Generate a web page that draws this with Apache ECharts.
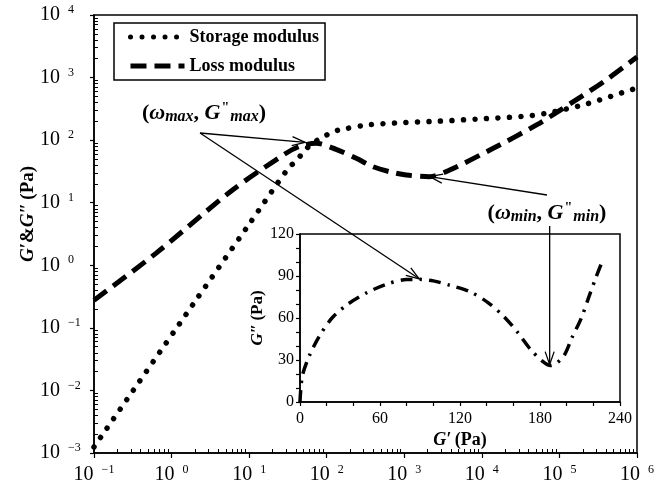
<!DOCTYPE html>
<html><head><meta charset="utf-8">
<script src="https://cdn.jsdelivr.net/npm/echarts@6/dist/echarts.min.js"></script>
<style>html,body{margin:0;padding:0;background:#fff}#c{width:661px;height:501px}</style>
</head><body><div id="c"></div>
<script>
// ---- data ----
const storageOmega = [0.1, 1.95, 10, 32, 41.5, 51.5, 67.6, 88.7, 122, 169, 339, 955, 2716, 10890, 43650, 87100, 223900, 895000, 1000000];
const storageG     = [0.00125, 0.251, 4.53, 35.5, 48.2, 67.9, 91.2, 111.2, 136.8, 151, 175, 190.5, 200.5, 220.8, 246.6, 285.8, 379.3, 651.6, 676];
const lossOmega = [0.1, 0.627, 6.11, 29.9, 44.7, 72.9, 132, 240, 393, 646, 1062, 2123, 3846, 14000, 50700, 151400, 405500, 1000000];
const lossG     = [0.277, 1.55, 15.96, 61.7, 79.4, 89.1, 71.4, 51.3, 37.7, 31.3, 27.7, 26.1, 33.3, 74.1, 175, 413, 925, 2138];
const insetGp  = [0, 0.5, 2, 7, 14.5, 24, 36, 50, 64.5, 80, 90, 100, 112, 127, 141, 153, 163, 173, 182, 188, 197.5, 204, 211, 217, 222, 226.5];
const insetGpp = [0, 8, 19.6, 33, 47, 60, 70, 78, 84, 87.5, 87.6, 86.5, 83.5, 79, 71, 61, 50, 37.5, 29, 26, 32.5, 46, 60, 76, 89, 100];
const xTickExp = ['−1', '0', '1', '2', '3', '4', '5', '6'];   // x: 10^-1 ... 10^6
const yTickExp = ['−3', '−2', '−1', '0', '1', '2', '3', '4']; // y: 10^-3 ... 10^4
const insetXTicks = [0, 60, 120, 180, 240];
const insetYTicks = [0, 30, 60, 90, 120];
const seriesNames = ['Storage modulus', 'Loss modulus'];

const SERIF = 'Liberation Serif';
// minor log ticks expressed as exponents (for a hidden linear axis spanning the same decades)
function minorLogExps(e0, e1) {
  const out = [];
  for (let e = e0; e < e1; e++) for (let m = 2; m <= 9; m++) out.push(e + Math.log10(m));
  return out;
}
function expLabel(arr, first) {
  return function (v) {
    const e = Math.round(Math.log10(v));
    const s = arr[e - first];
    return s === undefined ? '' : '{b|10}{s|' + s + '}';
  };
}
const labelRich = {
  b: { fontFamily: SERIF, fontSize: 20, color: '#000', lineHeight: 22, verticalAlign: 'middle' },
  s: { fontFamily: SERIF, fontSize: 12, color: '#000', lineHeight: 14, verticalAlign: 'top', padding: [0, 0, 20, 8] }
};

const chart = echarts.init(document.getElementById('c'), null, { renderer: 'canvas' });
const axisLine = { show: true, onZero: false, lineStyle: { color: '#000', width: 1.5 } };
const noLine = { show: false, onZero: false };

const option = {
  animation: false,
  backgroundColor: '#fff',
  grid: [
    { left: 94, right: 24, top: 15, bottom: 48, show: true, borderColor: '#000', borderWidth: 1.5, backgroundColor: 'transparent' },
    { left: 300, top: 234, width: 320, height: 168, show: true, borderColor: '#000', borderWidth: 1.5, backgroundColor: '#fff' }
  ],
  legend: {
    data: seriesNames, orient: 'vertical', left: 114, top: 23,
    padding: [5, 6, 5, 14], itemWidth: 54, itemHeight: 14, itemGap: 11,
    borderColor: '#000', borderWidth: 1.5, backgroundColor: '#fff',
    itemStyle: { opacity: 0 },
    lineStyle: { width: 5 },
    textStyle: { fontFamily: SERIF, fontWeight: 'bold', fontSize: 18, color: '#000' },
    selectedMode: false
  },
  xAxis: [
    { type: 'log', logBase: 10, min: 0.1, max: 1e6, gridIndex: 0, splitNumber: 7, position: 'bottom',
      axisLine, splitLine: { show: false },
      axisTick: { show: true, inside: false, length: 5, lineStyle: { color: '#000', width: 1.2 } },
      axisLabel: { formatter: expLabel(xTickExp, -1), margin: 11, rich: labelRich } },
    { type: 'value', min: -1, max: 6, gridIndex: 0, position: 'bottom',
      axisLine: noLine, splitLine: { show: false }, axisLabel: { show: false },
      axisTick: { show: true, inside: true, length: 4, customValues: minorLogExps(-1, 6), lineStyle: { color: '#000', width: 1 } } },
    { type: 'value', gridIndex: 1, min: 0, max: 240, interval: 60, position: 'bottom',
      axisLine, splitLine: { show: false },
      axisTick: { show: true, inside: false, length: 4, lineStyle: { color: '#000', width: 1.2 } },
      minorTick: { show: true, splitNumber: 3, length: 4, lineStyle: { color: '#000', width: 1.2 } },
      axisLabel: { fontFamily: SERIF, fontSize: 16, color: '#000', margin: 9, formatter: v => insetXTicks.includes(v) ? String(v) : '' },
      name: '{i|G′} {n|(Pa)}', nameLocation: 'middle', nameGap: 29, nameMoveOverlap: false,
      nameTextStyle: { rich: {
        i: { fontFamily: SERIF, fontSize: 18, fontWeight: 'bold', fontStyle: 'italic', color: '#000' },
        n: { fontFamily: SERIF, fontSize: 18, fontWeight: 'bold', color: '#000' } } } }
  ],
  yAxis: [
    { type: 'log', logBase: 10, min: 0.001, max: 1e4, gridIndex: 0, splitNumber: 7, position: 'left',
      axisLine, splitLine: { show: false },
      axisTick: { show: true, inside: false, length: 4, lineStyle: { color: '#000', width: 1.2 } },
      axisLabel: { formatter: expLabel(yTickExp, -3), align: 'left', margin: 54, rich: labelRich },
      name: '{i|G′}{n|&}{i|G″} {n|(Pa)}', nameLocation: 'middle', nameRotate: 90, nameGap: 56, nameMoveOverlap: false,
      nameTextStyle: { padding: [0, 0, 0, 40], rich: {
        i: { fontFamily: SERIF, fontSize: 19, fontWeight: 'bold', fontStyle: 'italic', color: '#000' },
        n: { fontFamily: SERIF, fontSize: 19, fontWeight: 'bold', color: '#000' } } } },
    { type: 'value', min: -3, max: 4, gridIndex: 0, position: 'left',
      axisLine: noLine, splitLine: { show: false }, axisLabel: { show: false },
      axisTick: { show: true, inside: true, length: 4, customValues: minorLogExps(-3, 4), lineStyle: { color: '#000', width: 1 } } },
    { type: 'value', gridIndex: 1, min: 0, max: 120, interval: 30, position: 'left',
      axisLine, splitLine: { show: false },
      axisTick: { show: true, inside: false, length: 4, lineStyle: { color: '#000', width: 1.2 } },
      minorTick: { show: true, splitNumber: 3, length: 4, lineStyle: { color: '#000', width: 1.2 } },
      axisLabel: { fontFamily: SERIF, fontSize: 16, color: '#000', margin: 6, formatter: v => insetYTicks.includes(v) ? String(v) : '' },
      name: '{i|G″} {n|(Pa)}', nameLocation: 'middle', nameRotate: 90, nameGap: 34, nameMoveOverlap: false,
      nameTextStyle: { rich: {
        i: { fontFamily: SERIF, fontSize: 17, fontWeight: 'bold', fontStyle: 'italic', color: '#000' },
        n: { fontFamily: SERIF, fontSize: 17, fontWeight: 'bold', color: '#000' } } } }
  ],
  series: [
    { name: seriesNames[0], type: 'line', xAxisIndex: 0, yAxisIndex: 0, smooth: 0.3, symbol: 'none',
      itemStyle: { color: '#000' },
      data: storageOmega.map((w, i) => [w, storageG[i]]),
      lineStyle: { color: '#000', width: 5.5, type: [0.01, 11.5], cap: 'round' }, z: 3 },
    { name: seriesNames[1], type: 'line', xAxisIndex: 0, yAxisIndex: 0, smooth: 0.3, symbol: 'none',
      itemStyle: { color: '#000' },
      data: lossOmega.map((w, i) => [w, lossG[i]]),
      lineStyle: { color: '#000', width: 5, type: [16, 8], cap: 'butt' }, z: 3 },
    { name: 'inset', type: 'line', xAxisIndex: 2, yAxisIndex: 2, smooth: 0.3, symbol: 'none',
      itemStyle: { color: '#000' },
      data: insetGp.map((g, i) => [g, insetGpp[i]]),
      lineStyle: { color: '#000', width: 3.5, type: [12, 7, 2.5, 7], cap: 'butt' }, z: 3 }
  ]
};
chart.setOption(option);

// ---- annotations: arrows to the G'' maximum and minimum ----
function argmax(a, from, to) { let k = from; for (let i = from; i < to; i++) if (a[i] > a[k]) k = i; return k; }
function argmin(a, from, to) { let k = from; for (let i = from; i < to; i++) if (a[i] < a[k]) k = i; return k; }
const iMax = argmax(lossG, 0, 10), iMin = argmin(lossG, iMax, lossG.length);
const jMax = argmax(insetGpp, 0, 18), jMin = argmin(insetGpp, jMax, insetGpp.length);
const pMax = chart.convertToPixel({ xAxisIndex: 0, yAxisIndex: 0 }, [lossOmega[iMax], lossG[iMax]]);
const pMin = chart.convertToPixel({ xAxisIndex: 0, yAxisIndex: 0 }, [lossOmega[iMin], lossG[iMin]]);
const qMax = chart.convertToPixel({ xAxisIndex: 2, yAxisIndex: 2 }, [insetGp[jMax], insetGpp[jMax]]);
const qMin = chart.convertToPixel({ xAxisIndex: 2, yAxisIndex: 2 }, [insetGp[jMin], insetGpp[jMin]]);

function arrow(x1, y1, x2, y2, shorten) {
  const dx = x2 - x1, dy = y2 - y1, L = Math.hypot(dx, dy), ux = dx / L, uy = dy / L;
  const tx = x2 - ux * shorten, ty = y2 - uy * shorten;
  const hl = 13, hw = 4.5, bx = tx - ux * hl, by = ty - uy * hl;
  return [
    { type: 'line', z: 100, shape: { x1, y1, x2: tx, y2: ty }, style: { stroke: '#000', lineWidth: 1.3 } },
    { type: 'polyline', z: 100, shape: { points: [[bx - uy * hw, by + ux * hw], [tx, ty], [bx + uy * hw, by - ux * hw]] },
      style: { stroke: '#000', lineWidth: 1.3, fill: null } }
  ];
}
const mRich = {
  p: { fontFamily: SERIF, fontSize: 22, fontWeight: 'bold', color: '#000' },
  w: { fontFamily: SERIF, fontSize: 22, fontWeight: 'bold', fontStyle: 'italic', color: '#000' },
  sub: { fontFamily: SERIF, fontSize: 16, fontWeight: 'bold', fontStyle: 'italic', color: '#000', verticalAlign: 'bottom', padding: [8, 0, 0, 0] },
  sup: { fontFamily: SERIF, fontSize: 14, fontWeight: 'bold', color: '#000', verticalAlign: 'top', padding: [0, 1, 8, 1] }
};
const tailMax = [200, 133], tailMin = [547, 195];
chart.setOption({
  graphic: [
    ...arrow(tailMax[0], tailMax[1], pMax[0], pMax[1], 11),
    ...arrow(tailMax[0], tailMax[1], qMax[0], qMax[1], 1),
    ...arrow(tailMin[0], tailMin[1], pMin[0], pMin[1], 0),
    ...arrow(qMin[0] - 1, 226, qMin[0] - 1, qMin[1], 1),
    { type: 'text', z: 100, x: 204, y: 113, style: {
        text: '{p|(}{w|ω}{sub|max}{p|, }{w|G}{sup|"}{sub|max}{p|)}', rich: mRich, align: 'center', verticalAlign: 'middle' } },
    { type: 'text', z: 100, x: 547, y: 213, style: {
        text: '{p|(}{w|ω}{sub|min}{p|, }{w|G}{sup|"}{sub|min}{p|)}', rich: mRich, align: 'center', verticalAlign: 'middle', backgroundColor: '#fff' } }
  ]
});
</script>
</body></html>
